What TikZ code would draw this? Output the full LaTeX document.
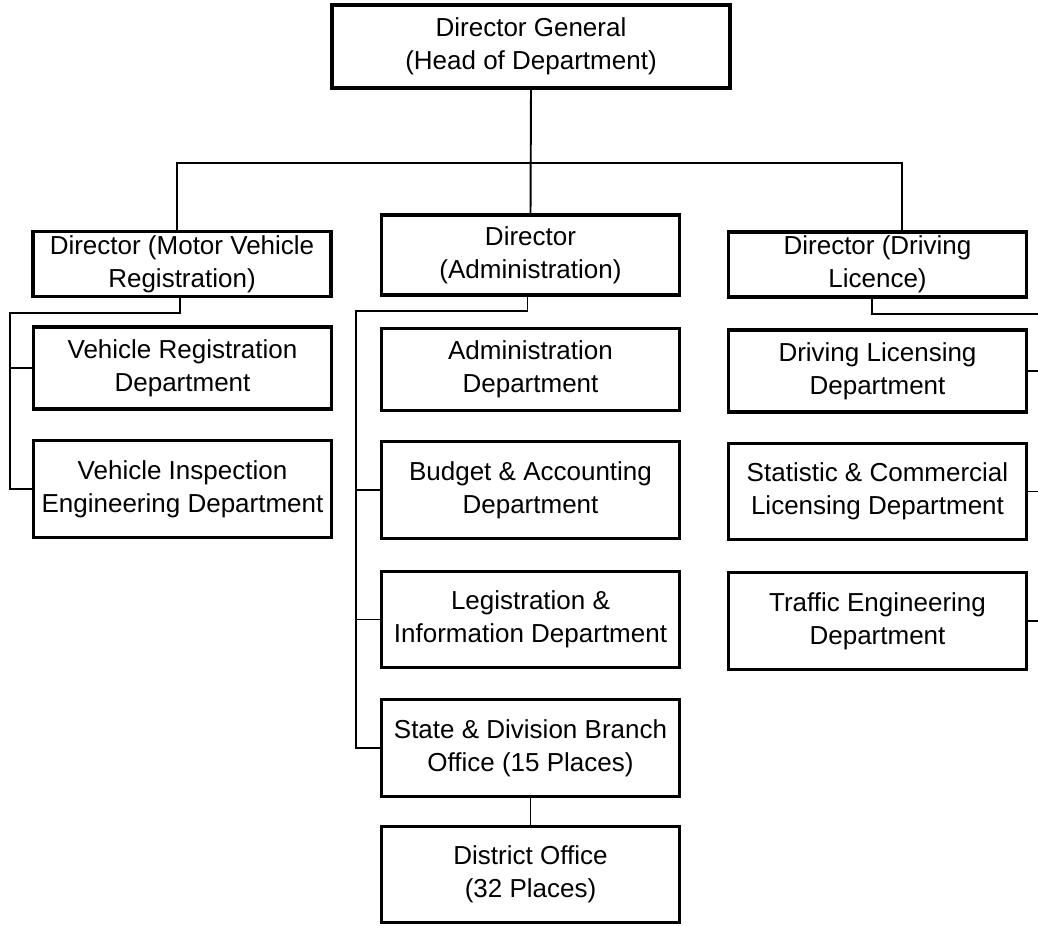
\documentclass[tikz,border=0pt]{standalone}
\usepackage{fontspec}
\setmainfont{Liberation Sans}
\usepackage{tikz}
\usetikzlibrary{positioning, calc}

\begin{document}
\begin{tikzpicture}[
    x=0.02cm, y=-0.02cm,
    box/.style={rectangle, draw, line width=1.8pt, minimum width=5.96cm, align=center, inner sep=2pt, font=\fontsize{14.8}{18.8}\selectfont},
    low/.style={minimum height=1.3cm},
    mid/.style={minimum height=1.64cm},
    tall/.style={minimum height=1.93cm},
    link/.style={line width=1.1pt}
]
\useasboundingbox (0,0) rectangle (1038,926);
\clip (0,0) rectangle (1038,926);

% Top
\node[box, minimum width=7.96cm, minimum height=1.66cm] (dg) at (531,46.5) {Director General\\(Head of Department)};

% Directors
\node[box, low] (motor) at (182,264) {Director (Motor Vehicle\\Registration)};
\node[box, minimum height=1.6cm] (admin) at (530.5,255) {Director\\(Administration)};
\node[box, low] (driving) at (877.5,264.5) {Director (Driving\\Licence)};

% Left column
\node[box, mid] (vreg) at (182.5,368) {Vehicle Registration\\Department};
\node[box, tall] (vinsp) at (182.5,489) {Vehicle Inspection\\Engineering Department};

% Middle column
\node[box, mid] (admdept) at (530.5,369.5) {Administration\\Department};
\node[box, tall] (budget) at (530.5,490) {Budget \& Accounting\\Department};
\node[box, tall] (legis) at (530.5,619.5) {Legistration \&\\Information Department};
\node[box, tall] (state) at (530.5,748) {State \& Division Branch\\Office (15 Places)};
\node[box, tall] (district) at (530.5,874.5) {District Office\\(32 Places)};

% Right column
\node[box, mid] (drvlic) at (877.5,371) {Driving Licensing\\Department};
\node[box, tall] (stat) at (877.5,491.5) {Statistic \& Commercial\\Licensing Department};
\node[box, tall] (traffic) at (877.5,621) {Traffic Engineering\\Department};

% Bus points
\coordinate (bus) at (531,163);
\coordinate (lbus) at (10,313);
\coordinate (mbus) at (356,311);
\coordinate (rbus) at (1045,314);

% Connectors
\draw[link] (dg.south) -- (admin.north);
\draw[link] ($(motor.north)+(-5,0)$) |- (bus) -| ($(driving.north)+(24.5,0)$);

\draw[link] ($(motor.south)+(-2,0)$) |- (lbus) |- (vinsp.west);
\draw[link] (lbus |- vreg.west) -- (vreg.west);

\draw[link] ($(admin.south)+(-3,0)$) |- (mbus) |- (state.west);
\draw[link] (mbus |- budget.west) -- (budget.west);
\draw[link] (mbus |- legis.west) -- (legis.west);
\draw[link] (state.south) -- (district.north);

\draw[link] ($(driving.south)+(-5.5,0)$) |- (rbus) |- (traffic.east);
\draw[link] (rbus |- drvlic.east) -- (drvlic.east);
\draw[link] (rbus |- stat.east) -- (stat.east);
\end{tikzpicture}
\end{document}
